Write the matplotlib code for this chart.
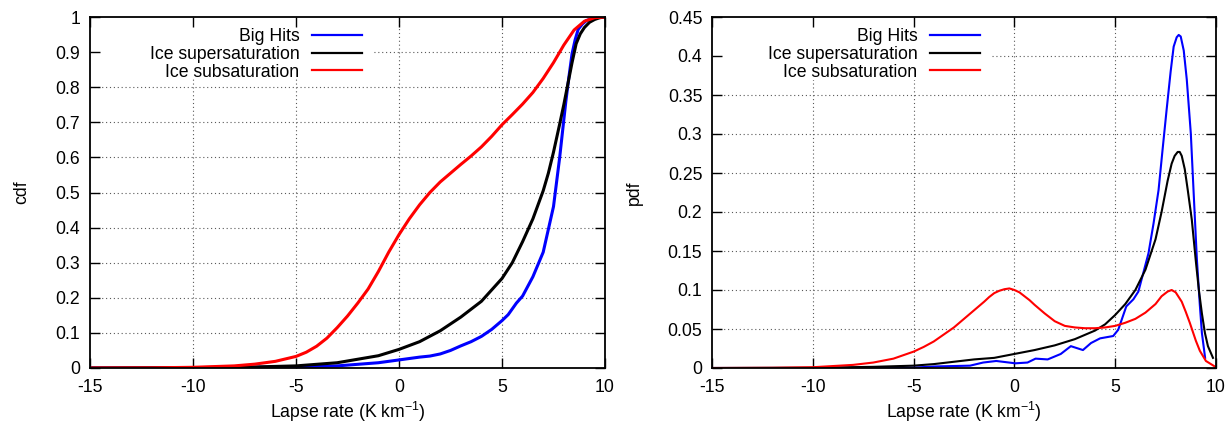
import matplotlib
matplotlib.use("Agg")
import matplotlib.pyplot as plt
from matplotlib.patches import Rectangle
from matplotlib.ticker import FuncFormatter

plt.rcParams['font.family'] = ['Liberation Sans', 'DejaVu Sans']
plt.rcParams['mathtext.default'] = 'regular'

labels = ["Big Hits", "Ice supersaturation", "Ice subsaturation"]
colors = ["#0000ff", "#000000", "#ff0000"]

# ---- CDF (left panel) ----
cdf_blue_x = [-15, -10, -5, -3, -1, 0, 1, 1.5, 2, 2.5, 3, 3.5, 4, 4.5, 5, 5.3, 5.7, 6, 6.5,
              7, 7.5, 7.65, 7.8, 7.95, 8.1, 8.25, 8.4, 8.55, 8.7, 8.9, 9.1, 9.5, 10]
cdf_blue_y = [0, 0.0005, 0.003, 0.006, 0.015, 0.023, 0.031, 0.034, 0.040, 0.050, 0.063, 0.075,
              0.090, 0.110, 0.135, 0.152, 0.185, 0.205, 0.260, 0.330, 0.460, 0.530, 0.600,
              0.680, 0.760, 0.830, 0.895, 0.935, 0.965, 0.980, 0.990, 0.998, 1.0]

cdf_black_x = [-15, -10, -7, -5, -3, -1, 0, 1, 2, 3, 4, 5, 5.5, 6, 6.5, 7, 7.25, 7.5, 7.8, 8.0,
               8.2, 8.4, 8.6, 8.8, 9.0, 9.25, 9.5, 9.75, 10]
cdf_black_y = [0, 0.001, 0.003, 0.006, 0.015, 0.035, 0.053, 0.075, 0.106, 0.145, 0.190, 0.255,
               0.300, 0.360, 0.425, 0.505, 0.555, 0.615, 0.695, 0.750, 0.810, 0.870, 0.924,
               0.952, 0.970, 0.985, 0.993, 0.998, 1.0]

cdf_red_x = [-15, -12, -10, -8, -7, -6, -5, -4.5, -4, -3.5, -3, -2.5, -2, -1.5, -1, -0.5, 0,
             0.5, 1, 1.5, 2, 2.5, 3, 3.5, 4, 4.5, 5, 5.5, 6, 6.5, 7, 7.5, 8, 8.5, 9, 9.5, 10]
cdf_red_y = [0, 0.0005, 0.002, 0.006, 0.011, 0.019, 0.033, 0.045, 0.062, 0.085, 0.115, 0.148,
             0.185, 0.225, 0.275, 0.330, 0.380, 0.425, 0.465, 0.500, 0.530, 0.555, 0.580,
             0.604, 0.630, 0.660, 0.693, 0.722, 0.752, 0.785, 0.825, 0.870, 0.920, 0.963,
             0.988, 0.998, 1.0]

# ---- PDF (right panel) ----
pdf_blue_x = [-15, -10, -5, -3.9, -2.2, -1.55, -0.9, 0.05, 0.65, 1.05, 1.65, 2.3, 2.8, 3.4, 3.8,
              4.25, 4.9, 5.15, 5.55, 5.9, 6.15, 6.65, 6.9, 7.15, 7.35, 7.55, 7.75, 7.9, 8.05,
              8.15, 8.25, 8.4, 8.55, 8.75, 8.9, 9.05, 9.2, 9.3, 9.46]
pdf_blue_y = [0, 0, 0.0005, 0.002, 0.003, 0.007, 0.009, 0.006, 0.007, 0.012, 0.011, 0.018, 0.028,
              0.023, 0.032, 0.038, 0.041, 0.049, 0.079, 0.088, 0.098, 0.147, 0.185, 0.228,
              0.280, 0.331, 0.380, 0.412, 0.424, 0.427, 0.425, 0.407, 0.370, 0.301, 0.220,
              0.140, 0.080, 0.045, 0.013]

pdf_black_x = [-15, -10, -7, -5, -4, -3, -2, -1, 0, 1, 2, 3, 4, 4.5, 5, 5.5, 6, 6.5, 7, 7.3,
               7.6, 7.8, 7.95, 8.1, 8.2, 8.3, 8.45, 8.6, 8.8, 9, 9.15, 9.3, 9.45, 9.6, 9.85]
pdf_black_y = [0, 0.0003, 0.0015, 0.003, 0.005, 0.008, 0.011, 0.013, 0.018, 0.023, 0.029, 0.037,
               0.048, 0.056, 0.068, 0.082, 0.100, 0.126, 0.165, 0.200, 0.240, 0.262, 0.272,
               0.277, 0.277, 0.272, 0.255, 0.228, 0.190, 0.137, 0.100, 0.070, 0.045, 0.028,
               0.013]

pdf_red_x = [-15, -12, -10, -8, -7, -6, -5, -4.5, -4, -3.5, -3, -2.5, -2, -1.5, -1.25, -1,
             -0.75, -0.5, -0.25, 0, 0.25, 0.5, 0.75, 1, 1.5, 2, 2.5, 3, 3.5, 4, 4.5, 5, 5.5, 6,
             6.5, 7, 7.3, 7.6, 7.8, 8.0, 8.3, 8.5, 8.7, 9, 9.2, 9.5, 10]
pdf_red_y = [0, 0.0003, 0.001, 0.004, 0.007, 0.012, 0.021, 0.027, 0.034, 0.043, 0.052, 0.063,
             0.074, 0.085, 0.091, 0.096, 0.099, 0.101, 0.102, 0.100, 0.097, 0.092, 0.087,
             0.081, 0.070, 0.060, 0.054, 0.052, 0.051, 0.051, 0.052, 0.054, 0.058, 0.063,
             0.071, 0.082, 0.092, 0.098, 0.100, 0.097, 0.085, 0.072, 0.058, 0.035, 0.022,
             0.009, 0.001]

x_ticks = [-15, -10, -5, 0, 5, 10]
cdf_ticks = [0, 0.1, 0.2, 0.3, 0.4, 0.5, 0.6, 0.7, 0.8, 0.9, 1.0]
pdf_ticks = [0, 0.05, 0.1, 0.15, 0.2, 0.25, 0.3, 0.35, 0.4, 0.45]
xlabel = "Lapse rate (K km$^{-1}$)"

FS = 12.7
W, H = 1230, 424
fig = plt.figure(figsize=(W / 100, H / 100), dpi=100)

ax1 = fig.add_axes([90 / W, 1 - 368 / H, 515 / W, 351 / H])
ax2 = fig.add_axes([712 / W, 1 - 368 / H, 504 / W, 351 / H])

fmt = FuncFormatter(lambda v, p: f"{v:g}")


def style(ax, yticks, ylabel, legend_right, cover_w, cover_bottom, lw):
    ax.set_xlim(-15, 10)
    ax.set_ylim(yticks[0], yticks[-1])
    ax.set_xticks(x_ticks)
    ax.set_yticks(yticks)
    ax.xaxis.set_major_formatter(fmt)
    ax.yaxis.set_major_formatter(fmt)
    ax.tick_params(direction='in', length=7, width=1.0, top=True, right=True,
                   labelsize=FS, color='black')
    ax.tick_params(axis='y', pad=7)
    ax.tick_params(axis='x', pad=8)
    for s in ax.spines.values():
        s.set_linewidth(1.3)
        s.set_zorder(3)
    # dotted grid
    for xv in x_ticks[1:-1]:
        ax.axvline(xv, color='0.35', lw=0.8, ls=(0, (1, 2.5)), zorder=0.8)
    for yv in yticks[1:-1]:
        ax.axhline(yv, color='0.35', lw=0.8, ls=(0, (1, 2.5)), zorder=0.8)
    # white key area covering the grid
    ax.add_patch(Rectangle((0, cover_bottom), cover_w, 1 - cover_bottom,
                           transform=ax.transAxes, facecolor='white', edgecolor='none',
                           zorder=1.0))
    ax.set_xlabel(xlabel, fontsize=FS, labelpad=3)
    ax.set_ylabel(ylabel, fontsize=FS, labelpad=18)
    leg = ax.legend(loc='upper right', bbox_to_anchor=(legend_right, 0.969),
                    frameon=False, fontsize=FS, markerfirst=False, handlelength=2.85,
                    handletextpad=0.7, labelspacing=0.05, borderpad=0, borderaxespad=0)
    for l in leg.get_lines():
        l.set_linewidth(lw)
    leg.set_zorder(1.2)
    ax.set_axisbelow('line')


lw1 = 2.2
ax1.plot(cdf_blue_x, cdf_blue_y, color=colors[0], lw=lw1, label=labels[0], zorder=2)
ax1.plot(cdf_black_x, cdf_black_y, color=colors[1], lw=lw1, label=labels[1], zorder=2)
ax1.plot(cdf_red_x, cdf_red_y, color=colors[2], lw=lw1, label=labels[2], zorder=2)
style(ax1, cdf_ticks, "cdf", 0.528, 0.548, 0.83, 1.6)

lw2 = 1.5
ax2.plot(pdf_blue_x, pdf_blue_y, color=colors[0], lw=lw2, label=labels[0], zorder=2)
ax2.plot(pdf_black_x, pdf_black_y, color=colors[1], lw=lw2, label=labels[1], zorder=2)
ax2.plot(pdf_red_x, pdf_red_y, color=colors[2], lw=lw2, label=labels[2], zorder=2)
style(ax2, pdf_ticks, "pdf", 0.532, 0.552, 0.82, 1.6)

fig.savefig("out.png", dpi=100)
